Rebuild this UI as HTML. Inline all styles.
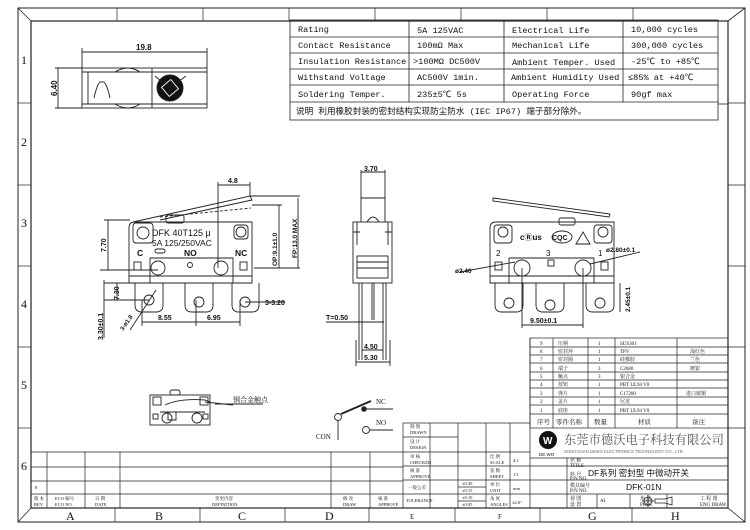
<!DOCTYPE html>
<html><head><meta charset="utf-8"><style>
html,body{margin:0;padding:0;background:#fff;}
svg{display:block;}
text{font-family:"Liberation Sans","Noto Sans CJK SC",sans-serif;fill:#111;}
.m text,text.m{font-family:"Liberation Mono","Noto Sans CJK SC",monospace;}
.s text,text.s{font-family:"Liberation Serif","Noto Serif CJK SC",serif;}
</style></head><body>
<svg width="750" height="530" viewBox="0 0 750 530" xmlns="http://www.w3.org/2000/svg" fill="none" stroke="#222" stroke-width="0.8">
<!-- frame -->
<rect x="18" y="8" width="727" height="514" stroke-width="1"/>
<rect x="31" y="21" width="697" height="487" stroke-width="1.2"/>
<line x1="18" y1="8" x2="31" y2="21"/><line x1="745" y1="8" x2="728" y2="21"/>
<line x1="18" y1="522" x2="31" y2="508"/><line x1="745" y1="522" x2="728" y2="508"/>
<g stroke-width="0.7">
<line x1="117" y1="8" x2="117" y2="21"/><line x1="203" y1="8" x2="203" y2="21"/><line x1="289" y1="8" x2="289" y2="21"/>
<line x1="375" y1="8" x2="375" y2="21"/><line x1="461" y1="8" x2="461" y2="21"/><line x1="547" y1="8" x2="547" y2="21"/><line x1="633" y1="8" x2="633" y2="21"/>
<line x1="115" y1="508" x2="115" y2="522"/><line x1="200" y1="508" x2="200" y2="522"/><line x1="285" y1="508" x2="285" y2="522"/>
<line x1="369" y1="508" x2="369" y2="522"/><line x1="455" y1="508" x2="455" y2="522"/><line x1="540" y1="508" x2="540" y2="522"/><line x1="632" y1="508" x2="632" y2="522"/>
<line x1="18" y1="103" x2="31" y2="103"/><line x1="18" y1="185" x2="31" y2="185"/><line x1="18" y1="266" x2="31" y2="266"/>
<line x1="18" y1="347" x2="31" y2="347"/><line x1="18" y1="428" x2="31" y2="428"/>
<line x1="728" y1="103" x2="745" y2="103"/><line x1="728" y1="185" x2="745" y2="185"/><line x1="728" y1="266" x2="745" y2="266"/>
<line x1="728" y1="347" x2="745" y2="347"/><line x1="728" y1="428" x2="745" y2="428"/>
</g>
<g stroke="none" class="s" font-size="12">
<text x="21" y="64">1</text><text x="21" y="146">2</text><text x="21" y="227">3</text>
<text x="21" y="308">4</text><text x="21" y="389">5</text><text x="21" y="470">6</text>
<text x="66" y="520">A</text><text x="155" y="520">B</text><text x="238" y="520">C</text>
<text x="325" y="520">D</text><text x="588" y="520">G</text><text x="671" y="520">H</text>
<text x="410" y="519" font-size="7">E</text><text x="498" y="519" font-size="7">F</text>
</g>

<!-- spec table -->
<g stroke-width="0.8">
<rect x="290" y="20" width="428" height="100"/>
<line x1="290" y1="37" x2="718" y2="37"/><line x1="290" y1="53" x2="718" y2="53"/><line x1="290" y1="69" x2="718" y2="69"/>
<line x1="290" y1="85" x2="718" y2="85"/><line x1="290" y1="102" x2="718" y2="102"/>
<line x1="409" y1="20" x2="409" y2="102"/><line x1="504" y1="20" x2="504" y2="102"/><line x1="623" y1="20" x2="623" y2="102"/>
<line x1="718" y1="104" x2="728" y2="104"/>
</g>
<g stroke="none" class="m" font-size="8.6">
<text x="298" y="32">Rating</text><text x="417" y="33">5A  125VAC</text><text x="512" y="33">Electrical Life</text><text x="631" y="32">10,000 cycles</text>
<text x="298" y="48">Contact Resistance</text><text x="417" y="48">100mΩ  Max</text><text x="512" y="48">Mechanical Life</text><text x="631" y="48">300,000 cycles</text>
<text x="298" y="64">Insulation Resistance</text><text x="413" y="64">&gt;100MΩ  DC500V</text><text x="512" y="65">Ambient Temper. Used</text><text x="631" y="64">-25℃ to +85℃</text>
<text x="298" y="80">Withstand Voltage</text><text x="417" y="80">AC500V  1min.</text><text x="511" y="80">Ambient Humidity Used</text><text x="628" y="80">≤85% at +40℃</text>
<text x="298" y="97">Soldering Temper.</text><text x="417" y="97">235±5℃ 5s</text><text x="512" y="97">Operating Force</text><text x="631" y="97">90gf max</text>
<text x="296" y="114">说明  利用橡胶封装的密封结构实现防尘防水 (IEC IP67) 端子部分除外。</text>
</g>

<!-- top view -->
<g stroke-width="0.9">
<rect x="82" y="68" width="125" height="40"/>
<line x1="82" y1="72" x2="207" y2="72"/><line x1="82" y1="104" x2="207" y2="104"/>
<line x1="88" y1="72" x2="88" y2="104"/><line x1="152" y1="68" x2="152" y2="108"/>
<path d="M94 98 Q98 80 102 82 Q106 80 110 98"/>
<path d="M115 72 Q128 64 140 72 M115 104 Q128 112 140 104"/>
<circle cx="170" cy="88" r="13" fill="#111"/>
<rect x="164" y="82" width="12" height="12" stroke="#fff" transform="rotate(-40 170 88)"/>
<path d="M155 76 L162 82 M178 82 L186 76"/>
<line x1="82" y1="52" x2="207" y2="52"/><line x1="82" y1="48" x2="82" y2="68"/><line x1="207" y1="48" x2="207" y2="68"/>
<line x1="58" y1="68" x2="58" y2="108"/><line x1="55" y1="68" x2="82" y2="68"/><line x1="55" y1="108" x2="82" y2="108"/>
</g>
<g stroke="none" font-size="8" font-weight="bold"><text x="136" y="50">19.8</text>
<text x="0" y="0" transform="translate(57 96) rotate(-90)">6.40</text></g>

<!-- front view -->
<g stroke-width="0.9">
<path d="M129 283 V228 Q129 222 135 222 H252 V283 Z"/>
<path d="M150 258 V283 M150 258 H233 V283"/>
<line x1="129" y1="276" x2="252" y2="276"/>
<path d="M133 222 L250 196 L252 200 L160 220" />
<line x1="160" y1="217" x2="251" y2="208" stroke-dasharray="3 2"/>
<rect x="166" y="215" width="18" height="8" rx="2"/>
<rect x="133" y="223" width="20" height="20" rx="3"/><circle cx="143" cy="233" r="6"/>
<rect x="234" y="225" width="14" height="14" rx="3"/><circle cx="241" cy="232" r="5"/>
<rect x="134" y="262" width="7" height="8"/><rect x="240" y="262" width="7" height="8"/>
<circle cx="158" cy="268" r="7"/><circle cx="221" cy="268" r="7"/><circle cx="190" cy="265" r="2.5"/>
<rect x="155" y="249" width="10" height="4" rx="2"/>
<path d="M135 283 V305 Q135 312 142 312 H156 Q163 312 163 305 V283"/>
<path d="M185 283 V305 Q185 312 192 312 H206 Q213 312 213 305 V283"/>
<path d="M232 283 V305 Q232 312 239 312 H252 Q259 312 259 305 V283"/>
<circle cx="149" cy="300" r="5"/><circle cx="199" cy="302" r="5"/><circle cx="245" cy="302" r="5"/>
<line x1="218" y1="185" x2="250" y2="185"/><line x1="218" y1="182" x2="218" y2="268"/><line x1="250" y1="182" x2="250" y2="196"/>
<line x1="108" y1="220" x2="108" y2="270"/><line x1="104" y1="220" x2="130" y2="220"/><line x1="100" y1="270" x2="158" y2="270"/>
<line x1="104" y1="280" x2="104" y2="338"/><line x1="117" y1="283" x2="117" y2="300"/><line x1="104" y1="283" x2="135" y2="283"/>
<line x1="104" y1="300" x2="149" y2="300"/>
<line x1="142" y1="322" x2="240" y2="322"/><line x1="142" y1="300" x2="142" y2="326"/><line x1="196" y1="300" x2="196" y2="326"/><line x1="240" y1="300" x2="240" y2="326"/>
<line x1="245" y1="302" x2="285" y2="302"/>
<line x1="130" y1="330" x2="156" y2="290"/>
<line x1="252" y1="205" x2="282" y2="205"/><line x1="254" y1="268" x2="300" y2="268"/>
<line x1="279" y1="205" x2="279" y2="268"/><line x1="298" y1="198" x2="298" y2="268"/><line x1="250" y1="196" x2="300" y2="196"/>
</g>
<g stroke="none" font-weight="bold">
<text x="152" y="236" font-size="9" font-weight="normal">DFK 40T125 μ</text>
<text x="152" y="246" font-size="8.5" font-weight="normal">5A 125/250VAC</text>
<text x="137" y="256" font-size="8.5">C</text><text x="184" y="256" font-size="8.5">NO</text><text x="235" y="256" font-size="8.5">NC</text>
<text x="228" y="183" font-size="7">4.8</text>
<text x="265" y="305" font-size="7">3-3.20</text>
<text x="158" y="320" font-size="7">8.55</text><text x="207" y="320" font-size="7">6.95</text>
<text font-size="7" transform="translate(106 252) rotate(-90)">7.70</text>
<text font-size="7" transform="translate(119 300) rotate(-90)">7.30</text>
<text font-size="7" transform="translate(103 340) rotate(-90)">3.30±0.1</text>
<text font-size="6" transform="translate(123 331) rotate(-55)">3-ø1.8</text>
<text font-size="6.5" transform="translate(277 266) rotate(-90)">OP:9.1±1.0</text>
<text font-size="6.5" transform="translate(297 258) rotate(-90)">FP:13.0 MAX</text>
</g>

<!-- side view -->
<g stroke-width="0.9">
<path d="M361 222 V198 H385 V222"/><line x1="361" y1="172" x2="385" y2="172"/><line x1="361" y1="170" x2="361" y2="198"/><line x1="385" y1="170" x2="385" y2="198"/>
<path d="M367 222 Q373 212 379 222"/>
<rect x="353" y="222" width="39" height="61"/>
<path d="M357 222 V245 M388 222 V245 M353 232 H360 M385 232 H392"/>
<rect x="357" y="256" width="31" height="22"/><line x1="357" y1="262" x2="388" y2="262"/><line x1="357" y1="268" x2="388" y2="268"/>
<path d="M359 283 V360 M386 283 V360 M362 283 V360 M383 283 V360"/>
<path d="M372 283 V320 M374 283 V320"/>
<line x1="326" y1="322" x2="384" y2="322"/>
<line x1="362" y1="350" x2="383" y2="350"/><line x1="356" y1="362" x2="390" y2="362"/>
<line x1="356" y1="340" x2="356" y2="366"/><line x1="390" y1="340" x2="390" y2="366"/>
</g>
<g stroke="none" font-size="7" font-weight="bold">
<text x="364" y="171">3.70</text><text x="326" y="320">T=0.50</text><text x="364" y="349">4.50</text><text x="364" y="360">5.30</text>
</g>

<!-- right view -->
<g stroke-width="0.9">
<path d="M490 283 V228 Q490 222 496 222 H614 V283 Z"/>
<path d="M493 198 L610 214 L609 217 L493 201 Z"/>
<rect x="559" y="218" width="16" height="7" rx="2"/>
<rect x="494" y="225" width="18" height="18" rx="3"/><circle cx="503" cy="232" r="5"/>
<rect x="594" y="225" width="18" height="18" rx="3"/><circle cx="603" cy="232" r="5"/>
<path d="M509 258 V283 M509 258 H594 V283"/><line x1="490" y1="276" x2="614" y2="276"/>
<rect x="495" y="262" width="7" height="8"/><rect x="601" y="262" width="7" height="8"/><rect x="548" y="260" width="6" height="6"/>
<circle cx="522" cy="268" r="8"/><circle cx="583" cy="268" r="8"/>
<ellipse cx="562" cy="237" rx="10" ry="6"/><path d="M576 244 L583 232 L590 244 Z"/>
<path d="M495 283 V305 Q495 312 502 312 H516 Q523 312 523 305 V283"/>
<path d="M536 283 V305 Q536 312 543 312 H557 Q564 312 564 305 V283"/>
<path d="M586 283 V305 Q586 312 593 312 H607 Q614 312 614 305 V283"/>
<circle cx="509" cy="303" r="5"/><circle cx="550" cy="305" r="5"/><circle cx="600" cy="303" r="5"/>
<line x1="522" y1="268" x2="522" y2="328"/><line x1="583" y1="268" x2="583" y2="328"/><line x1="522" y1="325" x2="583" y2="325"/>
<line x1="460" y1="272" x2="515" y2="262"/><line x1="590" y1="264" x2="640" y2="252"/>
<line x1="620" y1="283" x2="620" y2="312"/>
</g>
<g stroke="none">
<text x="520" y="240" font-size="8" font-weight="bold">cⓇus</text><text x="552" y="240" font-size="7" font-weight="bold">CQC</text>
<text x="496" y="256" font-size="8">2</text><text x="546" y="256" font-size="8">3</text><text x="598" y="256" font-size="8">1</text>
<text x="530" y="323" font-size="7" font-weight="bold">9.50±0.1</text>
<text x="455" y="273" font-size="6.5" font-weight="bold">ø2.40</text>
<text x="606" y="252" font-size="6.5" font-weight="bold">ø2.80±0.1</text>
<text font-size="6.5" font-weight="bold" transform="translate(630 312) rotate(-90)">2.45±0.1</text>
</g>

<!-- bottom small drawing -->
<g stroke-width="0.9">
<rect x="150" y="395" width="60" height="30"/><rect x="170" y="390" width="10" height="5" rx="2"/>
<rect x="153" y="397" width="8" height="8"/><rect x="200" y="397" width="8" height="8"/>
<path d="M165 405 Q180 398 205 400 L210 402"/><line x1="205" y1="402" x2="233" y2="405"/>
<path d="M160 412 H205 M168 412 V420 H176 V412"/>
<circle cx="167" cy="418" r="5"/><circle cx="197" cy="418" r="5"/>
<rect x="153" y="414" width="5" height="5"/><rect x="203" y="414" width="5" height="5"/>
<line x1="215" y1="404" x2="263" y2="404"/>
<circle cx="338" cy="417" r="3.5"/><line x1="338" y1="421" x2="338" y2="440"/>
<line x1="341" y1="414" x2="371" y2="401" stroke-width="2"/><circle cx="364" cy="409" r="2.3" fill="#222"/>
<line x1="365" y1="409" x2="393" y2="409"/>
<circle cx="366" cy="430" r="3.5"/><line x1="370" y1="430" x2="393" y2="430"/>
</g>
<g stroke="none" font-size="7" class="s">
<text x="233" y="402">钢合金触点</text>
<text x="376" y="404">NC</text><text x="376" y="425">NO</text><text x="316" y="439">CON</text>
</g>

<!-- title block left -->
<g stroke-width="0.7">
<line x1="31" y1="452" x2="403" y2="452"/><line x1="31" y1="467" x2="403" y2="467"/><line x1="31" y1="481" x2="403" y2="481"/><line x1="31" y1="494" x2="403" y2="494"/>
<line x1="47" y1="452" x2="47" y2="508"/><line x1="85" y1="452" x2="85" y2="508"/><line x1="120" y1="452" x2="120" y2="508"/>
<line x1="331" y1="452" x2="331" y2="508"/><line x1="370" y1="452" x2="370" y2="508"/>
<line x1="403" y1="423" x2="403" y2="508"/><line x1="403" y1="423" x2="530" y2="423"/>
<line x1="403" y1="437" x2="458" y2="437"/><line x1="403" y1="452" x2="530" y2="452"/><line x1="403" y1="466" x2="728" y2="466"/>
<line x1="403" y1="480" x2="728" y2="480"/><line x1="403" y1="494" x2="728" y2="494"/>
<line x1="430" y1="423" x2="430" y2="508"/><line x1="458" y1="423" x2="458" y2="508"/><line x1="486" y1="423" x2="486" y2="508"/>
<line x1="510" y1="423" x2="510" y2="508"/><line x1="458" y1="487" x2="486" y2="487"/><line x1="458" y1="501" x2="486" y2="501"/>
<line x1="530" y1="338" x2="530" y2="508"/>
</g>
<g stroke="none" font-size="4.5" class="s">
<text x="34" y="500">版 本</text><text x="34" y="506">REV.</text><text x="55" y="500">ECO 编号</text><text x="55" y="506">ECO NO.</text>
<text x="95" y="500">日 期</text><text x="95" y="506">DATE</text><text x="215" y="500">变更内容</text><text x="212" y="506">DEFINITION</text>
<text x="343" y="500">修 改</text><text x="343" y="506">DRAW</text><text x="378" y="500">核 准</text><text x="378" y="506">APPROVE</text>
<text x="35" y="489">8</text>
<text x="410" y="428">制 图</text><text x="410" y="434">DRAWN</text><text x="410" y="443">设 计</text><text x="410" y="449">DESIGN</text>
<text x="410" y="458">审 核</text><text x="410" y="464">CHECKED</text><text x="410" y="472">核 准</text><text x="410" y="478">APPROVE</text>
<text x="408" y="489">一般公差</text><text x="406" y="502">TOLERANCE</text>
<text x="462" y="485">±0.30</text><text x="462" y="492">±0.15</text><text x="462" y="499">±0.10</text><text x="462" y="506">±0.05</text>
<text x="490" y="458">比 例</text><text x="490" y="464">SCALE</text><text x="490" y="472">张 数</text><text x="490" y="478">SHEET</text>
<text x="490" y="486">单 位</text><text x="490" y="492">UNIT</text><text x="490" y="500">角 度</text><text x="490" y="506">ANGLES</text>
<text x="513" y="462">4:1</text><text x="513" y="476">1/1</text><text x="513" y="490">mm</text><text x="512" y="504">±2.0°</text>
</g>

<!-- parts table -->
<g stroke-width="0.7">
<rect x="530" y="338" width="198" height="90"/>
<line x1="530" y1="347" x2="728" y2="347"/><line x1="530" y1="355" x2="728" y2="355"/><line x1="530" y1="363" x2="728" y2="363"/>
<line x1="530" y1="372" x2="728" y2="372"/><line x1="530" y1="380" x2="728" y2="380"/><line x1="530" y1="388" x2="728" y2="388"/>
<line x1="530" y1="397" x2="728" y2="397"/><line x1="530" y1="405" x2="728" y2="405"/><line x1="530" y1="414" x2="728" y2="414"/>
<line x1="553" y1="338" x2="553" y2="428"/><line x1="588" y1="338" x2="588" y2="428"/><line x1="615" y1="338" x2="615" y2="428"/><line x1="677" y1="338" x2="677" y2="428"/>
<line x1="530" y1="458" x2="728" y2="458"/>
<line x1="567" y1="458" x2="567" y2="508"/><line x1="597" y1="494" x2="597" y2="508"/><line x1="630" y1="494" x2="630" y2="508"/><line x1="667" y1="494" x2="667" y2="508"/>
</g>
<g stroke="none" font-size="5" class="s">
<text x="540" y="345">9</text><text x="558" y="345">压柄</text><text x="598" y="345">1</text><text x="620" y="345">SUS301</text>
<text x="540" y="353">8</text><text x="558" y="353">密封环</text><text x="598" y="353">1</text><text x="620" y="353">TPV</text><text x="690" y="353">浅红色</text>
<text x="540" y="361">7</text><text x="558" y="361">密封圈</text><text x="598" y="361">1</text><text x="620" y="361">硅橡胶</text><text x="690" y="361">兰色</text>
<text x="540" y="370">6</text><text x="558" y="370">端子</text><text x="598" y="370">3</text><text x="620" y="370">C2680</text><text x="690" y="370">镀银</text>
<text x="540" y="378">5</text><text x="558" y="378">触点</text><text x="598" y="378">3</text><text x="620" y="378">银合金</text>
<text x="540" y="386">4</text><text x="558" y="386">按钮</text><text x="598" y="386">1</text><text x="620" y="386">PBT UL94 V0</text>
<text x="540" y="395">3</text><text x="558" y="395">弹片</text><text x="598" y="395">1</text><text x="620" y="395">C17200</text><text x="686" y="395">进口铍铜</text>
<text x="540" y="403">2</text><text x="558" y="403">盖片</text><text x="598" y="403">1</text><text x="620" y="403">尼龙</text>
<text x="540" y="412">1</text><text x="558" y="412">底座</text><text x="598" y="412">1</text><text x="620" y="412">PBT UL94 V0</text>
<text x="537" y="424" font-size="6.5">序号</text><text x="556" y="424" font-size="6.5">零件名称</text><text x="594" y="424" font-size="6.5">数量</text>
<text x="638" y="424" font-size="6.5">材质</text><text x="692" y="424" font-size="6.5">备注</text>
<text x="570" y="462">名 称</text><text x="570" y="467">TITLE</text><text x="570" y="476">料 号</text><text x="570" y="480">P/N NO.</text>
<text x="570" y="487">模具编号</text><text x="570" y="492">P/N NO.</text><text x="570" y="500">视 图</text><text x="570" y="506">设 置</text>
<text x="600" y="502">AI</text><text x="640" y="500">角 法</text><text x="640" y="506">PROJ.</text><text x="700" y="500">工 程 图</text><text x="700" y="506">ENG DRAW</text>
</g>
<g stroke="none">
<circle cx="548" cy="440" r="9" fill="#111"/><text x="543" y="444" font-size="10" font-weight="bold" style="fill:#fff">W</text>
<text x="539" y="456" font-size="4.5">DE WO</text>
<text x="564" y="444" font-size="12.3" class="s" style="fill:#555">东莞市德沃电子科技有限公司</text>
<text x="564" y="453" font-size="4.2" style="fill:#666">DONGGUAN DEWO ELECTRONICS TECHNOLOGY CO., LTD</text>
<text x="588" y="476" font-size="8.5">DF系列  密封型  中微动开关</text>
<text x="626" y="490" font-size="8.5">DFK-01N</text>
</g>
<g stroke-width="0.8"><circle cx="648" cy="501" r="4"/><line x1="642" y1="501" x2="654" y2="501"/><line x1="648" y1="495" x2="648" y2="507"/><path d="M655 499 H665 L672 497 V505 L665 503 H655 Z"/></g>
</svg>
</body></html>
